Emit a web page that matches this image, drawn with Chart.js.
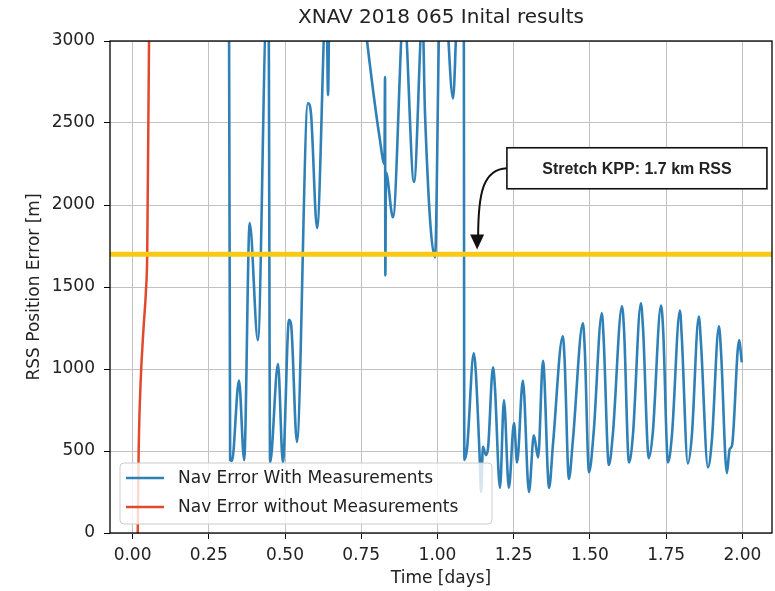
<!DOCTYPE html>
<html>
<head>
<meta charset="utf-8">
<script src="https://cdn.jsdelivr.net/npm/chart.js@4"></script>
<style>
  body { margin: 0; background: #fff; }
  canvas { display: block; }
</style>
</head>
<body>
<canvas id="myChart" width="775" height="591"></canvas>
<script>
let blueTime = [0.300, 0.316, 0.320, 0.326, 0.349, 0.366, 0.384, 0.411, 0.440, 0.446,
  0.451, 0.477, 0.493, 0.513, 0.520, 0.539, 0.575, 0.585, 0.605, 0.636,
  0.641, 0.646, 0.700, 0.740, 0.769, 0.811, 0.826, 0.828, 0.829, 0.831,
  0.854, 0.890, 0.923, 0.951, 0.959, 0.992, 1.008, 1.020, 1.051, 1.064,
  1.075, 1.086, 1.088, 1.097, 1.119, 1.125, 1.139, 1.143, 1.149, 1.159, 1.166,
  1.182, 1.188, 1.205, 1.218, 1.234, 1.251, 1.261, 1.280, 1.300, 1.316, 1.330,
  1.346, 1.366, 1.379, 1.411, 1.417, 1.431, 1.444, 1.477, 1.483, 1.497, 1.512, 1.539,
  1.545, 1.562, 1.575, 1.605, 1.612, 1.628, 1.641, 1.667, 1.674, 1.693, 1.706, 1.733,
  1.740, 1.756, 1.769, 1.795, 1.801, 1.821, 1.834, 1.857, 1.864,
  1.887, 1.900, 1.923, 1.930, 1.949, 1.958, 1.966, 1.989, 1.998];
let blueErr = [3600, 3400, 445, 440, 930, 445, 1890, 1175, 3200, 3200,
  430, 1030, 430, 1300, 1270, 555, 2620, 2560, 1860, 3300,
  2670, 3300, 3800, 3500, 3000, 2400, 2250, 2780, 1570, 2200,
  1925, 3200, 2140, 3150, 2560, 1680, 3300, 3400, 2650, 3200,
  3600, 3500, 445, 517, 1095, 1000, 432, 250, 525, 475, 520,
  1010, 900, 275, 810, 275, 670, 430, 930, 250, 595, 460,
  1050, 275, 548, 1200, 1050, 330, 565, 1278, 1120, 370, 610, 1340,
  1180, 415, 600, 1382, 1230, 430, 600, 1400, 1250, 456, 610, 1387,
  1240, 430, 600, 1357, 1200, 424, 590, 1320, 1160,
  400, 570, 1260, 1100, 365, 510, 535, 1175, 1040];

// Nav error without measurements
let redTime = [0.017, 0.020, 0.026, 0.036, 0.044, 0.048, 0.054, 0.056];
let redErr = [0, 500, 900, 1250, 1480, 1700, 3000, 3300];

// Stretch KPP threshold
let kppLevel = 1700;
let kppText = "Stretch KPP: 1.7 km RSS";
let kppLabelAt = { x: 1.654, y: 2224 };
let kppArrowTip = { x: 1.130, y: 1728 };

let xTicks = [0, 0.25, 0.5, 0.75, 1.0, 1.25, 1.5, 1.75, 2.0];
let yTicks = [0, 500, 1000, 1500, 2000, 2500, 3000];
let xMin = -0.074, xMax = 2.097;

let chartTitle = "XNAV 2018 065 Inital results";
let xTitle = "Time [days]";
let yTitle = "RSS Position Error [m]";
let font = "'DejaVu Sans', sans-serif";

function toPoints(xs, ys) {
  return xs.map((x, i) => ({ x: x, y: ys[i] }));
}

// title, axis labels, legend, annotation and frame (matplotlib look)
const decorations = {
  id: "decorations",
  afterDatasetsDraw(chart) {
    let ctx = chart.ctx;
    let area = chart.chartArea;
    let xs = chart.scales.x;
    let ys = chart.scales.y;
    ctx.save();

    // legend box
    let lx = area.left + 10, ly = area.bottom - 70, lw = 372, lh = 61;
    ctx.fillStyle = "rgba(255,255,255,0.8)";
    ctx.strokeStyle = "#cccccc";
    ctx.lineWidth = 1;
    ctx.beginPath();
    ctx.roundRect(lx, ly, lw, lh, 4);
    ctx.fill();
    ctx.stroke();
    let items = [chart.data.datasets[2], chart.data.datasets[1]];
    ctx.font = "17px " + font;
    ctx.textBaseline = "middle";
    items.forEach((ds, i) => {
      let y = ly + 15 + i * 29;
      ctx.strokeStyle = ds.borderColor;
      ctx.lineWidth = 2.5;
      ctx.beginPath();
      ctx.moveTo(lx + 6, y);
      ctx.lineTo(lx + 44, y);
      ctx.stroke();
      ctx.fillStyle = "#222";
      ctx.textAlign = "left";
      ctx.fillText(ds.label, lx + 58, y + 1);
    });

    // frame
    ctx.strokeStyle = "#000";
    ctx.lineWidth = 1.3;
    ctx.strokeRect(area.left, area.top, area.right - area.left, area.bottom - area.top);

    // title
    ctx.fillStyle = "#222";
    ctx.textAlign = "center";
    ctx.textBaseline = "middle";
    ctx.font = "20px " + font;
    ctx.fillText(chartTitle, (area.left + area.right) / 2, 18);

    // axis titles
    ctx.font = "17px " + font;
    ctx.fillText(xTitle, (area.left + area.right) / 2, 579);
    ctx.save();
    ctx.translate(35, (area.top + area.bottom) / 2);
    ctx.rotate(-Math.PI / 2);
    ctx.fillText(yTitle, 0, 0);
    ctx.restore();

    // KPP annotation box
    let cx = xs.getPixelForValue(kppLabelAt.x);
    let cy = ys.getPixelForValue(kppLabelAt.y);
    let bw = 260, bh = 41;
    ctx.fillStyle = "#fff";
    ctx.fillRect(cx - bw / 2, cy - bh / 2, bw, bh);
    ctx.strokeStyle = "#111";
    ctx.lineWidth = 1.6;
    ctx.strokeRect(cx - bw / 2, cy - bh / 2, bw, bh);
    ctx.fillStyle = "#222";
    ctx.font = "bold 16px 'Liberation Sans', Arial, sans-serif";
    ctx.fillText(kppText, cx, cy + 1);

    // curved arrow to the threshold line
    let tx = xs.getPixelForValue(kppArrowTip.x);
    let ty = ys.getPixelForValue(kppArrowTip.y);
    let sx = cx - bw / 2, sy = cy;
    ctx.strokeStyle = "#111";
    ctx.lineWidth = 2;
    ctx.beginPath();
    ctx.moveTo(sx, sy);
    ctx.bezierCurveTo(sx - 24, sy + 1, tx + 1, sy + 25, tx + 1, ty - 12);
    ctx.stroke();
    ctx.fillStyle = "#111";
    ctx.beginPath();
    ctx.moveTo(tx, ty);
    ctx.lineTo(tx - 7, ty - 15);
    ctx.lineTo(tx + 7, ty - 15);
    ctx.closePath();
    ctx.fill();

    ctx.restore();
  }
};

let ctx = document.getElementById("myChart").getContext("2d");

let myChart = new Chart(ctx, {
  type: "scatter",
  data: {
    datasets: [
      {
        label: "Stretch KPP",
        data: [{ x: xMin, y: kppLevel }, { x: xMax, y: kppLevel }],
        showLine: true,
        borderColor: "#f9c914",
        borderWidth: 5,
        pointRadius: 0
      },
      {
        label: "Nav Error without Measurements",
        data: toPoints(redTime, redErr),
        showLine: true,
        borderColor: "#e04a2c",
        borderWidth: 2.5,
        pointRadius: 0,
        cubicInterpolationMode: "monotone"
      },
      {
        label: "Nav Error With Measurements",
        data: toPoints(blueTime, blueErr),
        showLine: true,
        borderColor: "#2f80b6",
        borderWidth: 2.6,
        borderJoinStyle: "round",
        pointRadius: 0,
        cubicInterpolationMode: "monotone"
      }
    ]
  },
  options: {
    responsive: false,
    animation: false,
    layout: { padding: { top: 41, right: 3, left: 0, bottom: 0 } },
    plugins: {
      legend: { display: false },
      title: { display: false },
      tooltip: { enabled: false }
    },
    scales: {
      x: {
        type: "linear",
        min: xMin,
        max: xMax,
        afterFit: s => { s.height = 58; },
        afterBuildTicks: s => { s.ticks = xTicks.map(v => ({ value: v })); },
        grid: { color: "#c2c2c2", lineWidth: 1, tickColor: "#000", tickLength: 6 },
        border: { display: false },
        ticks: {
          autoSkip: false,
          maxRotation: 0,
          padding: 6,
          color: "#222",
          font: { family: font, size: 17 },
          callback: v => v.toFixed(2)
        }
      },
      y: {
        min: 0,
        max: 3000,
        afterFit: s => { s.width = 110; },
        afterBuildTicks: s => { s.ticks = yTicks.map(v => ({ value: v })); },
        grid: { color: "#c2c2c2", lineWidth: 1, tickColor: "#000", tickLength: 6 },
        border: { display: false },
        ticks: {
          padding: 9,
          color: "#222",
          font: { family: font, size: 17 },
          callback: v => String(v)
        }
      }
    }
  },
  plugins: [decorations]
});
</script>
</body>
</html>
